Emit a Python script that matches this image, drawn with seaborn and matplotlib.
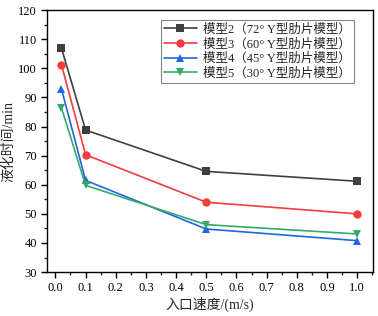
import matplotlib
matplotlib.use("Agg")
import matplotlib.pyplot as plt
import pandas as pd
import seaborn as sns
from matplotlib.ticker import MultipleLocator, AutoMinorLocator

sns.set_theme(style="ticks")
plt.rcParams["font.family"] = ["Liberation Serif", "Noto Sans CJK SC"]

# data
speed = [0.02, 0.1, 0.5, 1.0]
models = [
    "模型2（72° Y型肋片模型）",
    "模型3（60° Y型肋片模型）",
    "模型4（45° Y型肋片模型）",
    "模型5（30° Y型肋片模型）",
]
model2 = [107.0, 78.8, 64.6, 61.2]
model3 = [101.3, 70.3, 54.0, 50.0]
model4 = [93.0, 61.5, 44.8, 40.8]
model5 = [86.5, 59.8, 46.3, 43.1]

df = pd.DataFrame({
    "speed": speed * 4,
    "time": model2 + model3 + model4 + model5,
    "model": [m for m in models for _ in speed],
})

colors = ["#3f3f3f", "#f53b3b", "#1f66e0", "#35a86a"]
marks = ["s", "o", "^", "v"]

fig, ax = plt.subplots(figsize=(3.78, 3.16), dpi=100)
sns.lineplot(
    data=df, x="speed", y="time", hue="model", style="model",
    palette=colors, markers=marks, dashes=False, markersize=6,
    markeredgewidth=0, linewidth=1.2, ax=ax,
)

ax.set_xlim(-0.027, 1.053)
ax.set_ylim(30, 120)
ax.xaxis.set_major_locator(MultipleLocator(0.1))
ax.xaxis.set_minor_locator(AutoMinorLocator(2))
ax.yaxis.set_major_locator(MultipleLocator(10))
ax.yaxis.set_minor_locator(AutoMinorLocator(2))
ax.set_xticklabels([f"{v:.1f}" for v in ax.get_xticks()])
ax.tick_params(which="major", direction="out", length=4, width=1, labelsize=9, colors="black")
ax.tick_params(which="minor", direction="out", length=2, width=1)
for s in ax.spines.values():
    s.set_linewidth(1)
    s.set_color("black")

ax.set_xlabel("入口速度/(m/s)", fontsize=10, labelpad=2)
ax.set_ylabel("液化时间/min", fontsize=10, labelpad=2)

leg = ax.legend(loc="upper right", bbox_to_anchor=(0.96, 0.985), fontsize=9,
                frameon=True, fancybox=False, edgecolor="#666666",
                handlelength=2.6, labelspacing=0.2, borderpad=0.25,
                handletextpad=0.5)
leg.get_frame().set_linewidth(0.8)

fig.subplots_adjust(left=0.125, right=0.987, top=0.968, bottom=0.139)
fig.savefig("out.png", dpi=100)
